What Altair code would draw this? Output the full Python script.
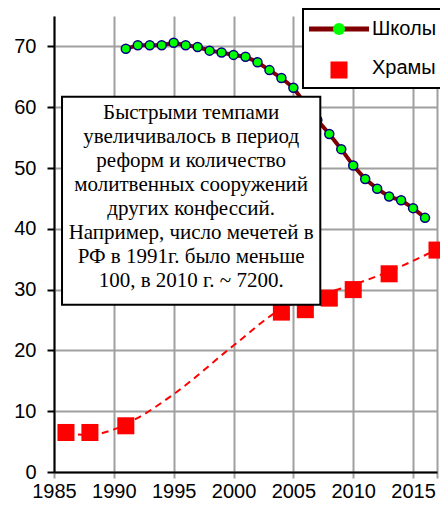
import altair as alt
import pandas as pd

# ---- data ----
series_names = ["Школы", "Храмы"]

school_years = list(range(1991, 2017))
school_values = [69.6, 70.2, 70.2, 70.2, 70.6, 70.2, 69.9, 69.3, 69.0, 68.6,
                 68.3, 67.4, 66.1, 64.8, 63.2, 60.5, 57.9, 55.6, 53.1, 50.4,
                 48.2, 46.6, 45.3, 44.7, 43.4, 41.8]

temple_years = [1986, 1988, 1991, 2004, 2006, 2008, 2010, 2013, 2017]
temple_values = [6.5, 6.5, 7.6, 26.3, 26.7, 28.6, 30.0, 32.6, 36.5]

trend_years = [1986, 1988, 1990, 1992, 1995, 2000, 2004, 2007, 2010, 2013, 2017]
trend_values = [6.3, 6.1, 7.0, 8.9, 12.8, 20.8, 26.8, 29.0, 30.8, 33.0, 36.6]

x_ticks = [1985, 1990, 1995, 2000, 2005, 2010, 2015, 2017]
y_ticks = [0, 10, 20, 30, 40, 50, 60, 70]

note_lines = [
    "Быстрыми темпами",
    "увеличивалось в период",
    "реформ и количество",
    "молитвенных сооружений",
    "других конфессий.",
    "Например, число мечетей в",
    "РФ в 1991г. было меньше",
    "100, в 2010 г. ~ 7200.",
]

# ---- tables ----
schools_df = pd.DataFrame({"year": school_years, "value": school_values, "series": series_names[0]})
temples_df = pd.DataFrame({"year": temple_years, "value": temple_values, "series": series_names[1]})
trend_df = pd.DataFrame({"year": trend_years, "value": trend_values})

# annotation box (in data units)
note_box = pd.DataFrame({"x1": [1985.67], "x2": [2007.25], "y1": [27.5], "y2": [61.7]})
note_text = pd.DataFrame({"x": [1996.46], "y": [59.1], "text": ["\n".join(note_lines)]})

SANS = "Liberation Sans"
SERIF = "Liberation Serif"
GRID = "#a0a0a0"
SQUARE = "M-1.42,-1.42H1.42V1.42H-1.42Z"
LINE_SYM = "M-5,0H5"

x_scale = alt.Scale(domain=[1985, 2017], nice=False, zero=False)
y_scale = alt.Scale(domain=[0, 75], nice=False)

x_axis = alt.Axis(
    title=None, values=x_ticks, format="d",
    labelExpr="datum.value == 2017 ? '' : datum.label",
    labelFont=SANS, labelFontSize=20, labelColor="black", labelPadding=3,
    labelOverlap=False, labelFlush=False,
    domainColor="black", domainWidth=2,
    tickColor=GRID, tickSize=6, tickWidth=2,
    grid=True, gridColor=GRID, gridWidth=2,
)
y_axis = alt.Axis(
    title=None, values=y_ticks,
    labelFont=SANS, labelFontSize=20, labelColor="black", labelPadding=11,
    domainColor="black", domainWidth=2,
    tickColor="black", tickSize=7, tickWidth=2,
    grid=True, gridColor=GRID, gridWidth=2,
)

LEG_X, LEG_Y = 249, -7
common_leg = dict(
    title=None, orient="none", legendX=LEG_X, legendY=LEG_Y,
    symbolSize=144, symbolOffset=16,
    labelFont=SANS, labelFontSize=20, labelOffset=23,
    padding=10, rowPadding=19,
)
line_legend = alt.Legend(
    symbolType=LINE_SYM, symbolStrokeWidth=5, labelColor="black",
    strokeColor="black", fillColor="white", zindex=0, **common_leg,
)
point_legend = alt.Legend(
    values=series_names, symbolStrokeWidth=1.5, symbolStrokeColor="#000080",
    labelColor="transparent", labelExpr="' '", zindex=1, **common_leg,
)

# marker scales list the categories in reverse so that their legend is kept
# apart from the line legend; the legend entries keep the order of series_names
marker_domain = series_names[::-1]
shape_scale = alt.Scale(domain=marker_domain, range=[SQUARE, "circle"])
fill_scale = alt.Scale(domain=marker_domain, range=["#ff0000", "#00ff00"])
line_scale = alt.Scale(domain=series_names, range=["#800000", "transparent"])

X = lambda f: alt.X(f, scale=x_scale, axis=x_axis)
Y = lambda f: alt.Y(f, scale=y_scale, axis=y_axis)

schools_line = alt.Chart(schools_df).mark_line(strokeWidth=4).encode(
    x=X("year:Q"), y=Y("value:Q"),
    color=alt.Color("series:N", scale=line_scale, legend=line_legend),
)

schools_pts = alt.Chart(schools_df).mark_point(
    filled=True, size=81, stroke="#000080", strokeWidth=1.5, opacity=1
).encode(
    x=X("year:Q"), y=Y("value:Q"),
    fill=alt.Fill("series:N", scale=fill_scale, legend=point_legend),
    shape=alt.Shape("series:N", scale=shape_scale, legend=point_legend),
)

trend_line = alt.Chart(trend_df).mark_line(
    color="#ff0000", strokeWidth=2, strokeDash=[7, 5], interpolate="monotone"
).encode(x=X("year:Q"), y=Y("value:Q"))

temple_pts = alt.Chart(temples_df).mark_point(
    filled=True, size=144, strokeWidth=0, opacity=1
).encode(
    x=X("year:Q"), y=Y("value:Q"),
    fill=alt.Fill("series:N", scale=fill_scale, legend=point_legend),
    shape=alt.Shape("series:N", scale=shape_scale, legend=point_legend),
)

box = alt.Chart(note_box).mark_rect(fill="white", stroke="black", strokeWidth=2).encode(
    x=X("x1:Q"), x2="x2:Q", y=Y("y1:Q"), y2="y2:Q",
)

text = alt.Chart(note_text).mark_text(
    font=SERIF, fontSize=21, lineHeight=24, align="center", baseline="middle",
    lineBreak="\n", color="black",
).encode(x=X("x:Q"), y=Y("y:Q"), text="text:N")

chart = alt.layer(schools_line, schools_pts, trend_line, temple_pts, box, text).properties(
    width=383, height=456,
    autosize=alt.AutoSizeParams(type="none"),
    padding={"left": 46, "top": 8, "right": 3, "bottom": 30},
).configure_view(stroke=None).configure_legend(strokeWidth=2)

chart.save("out.html", embed_options={"renderer": "svg", "actions": False})
